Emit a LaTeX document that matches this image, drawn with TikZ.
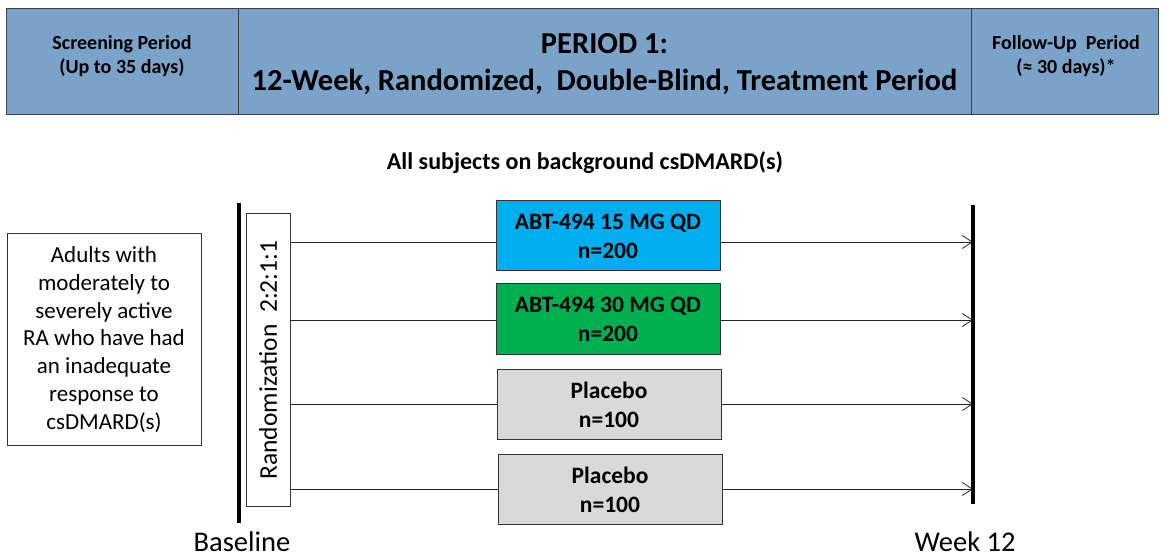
\documentclass[tikz,border=0pt]{standalone}
\usepackage{fontspec}
\setmainfont{Carlito}
\usetikzlibrary{arrows.meta,backgrounds}
\definecolor{hdr}{RGB}{123,162,200}
\definecolor{armblue}{RGB}{0,174,239}
\definecolor{armgreen}{RGB}{0,176,80}
\definecolor{armgray}{RGB}{217,217,217}
\begin{document}
\begin{tikzpicture}[x=1pt,y=-1pt,
  hcell/.style={draw=black!75, fill=hdr, line width=0.8pt, minimum height=106pt, inner sep=0pt},
  htext/.style={align=center, inner sep=0pt, font=\fontsize{20}{24}\selectfont\bfseries},
  armbox/.style={draw=black!80, line width=1pt, minimum width=224pt, minimum height=70pt, inner sep=0pt, align=center, font=\fontsize{23.5}{29}\selectfont\bfseries},
  timeline/.style={line width=4pt, black},
  flow/.style={black!85, line width=0.8pt, -{Straight Barb[length=10pt,width=13pt,line width=0.8pt]}},
  bigtext/.style={inner sep=0pt, anchor=base, font=\fontsize{28.5}{32}\selectfont}
]
\useasboundingbox (0,0) rectangle (1163,556);
% header
\node[hcell, minimum width=232pt] (scr) at (122,61) {};
\node[hcell, minimum width=733pt] (per) at (604.5,61) {};
\node[hcell, minimum width=187pt] (fol) at (1064.5,61) {};
\node[htext] (scrT) at (122,56) {Screening Period\\(Up to 35 days)};
\node[htext, font=\fontsize{30.5}{37}\selectfont\bfseries] (perT) at (604.5,64) {PERIOD 1:\\12-Week, Randomized,\ \ Double-Blind, Treatment Period};
\node[htext] (folT) at (1066,56) {Follow-Up\ \ Period\\(≈ 30 days)*};
% subtitle
\node[inner sep=0pt, font=\fontsize{24}{28}\selectfont\bfseries] (bg) at (585,163) {All subjects on background csDMARD(s)};
% population box
\node[draw=black!80, line width=1pt, minimum width=194pt, minimum height=211pt, inner sep=0pt, align=center, font=\fontsize{23}{27.8}\selectfont] (pop) at (104,339.5)
 {Adults with\\moderately to\\severely active\\RA who have had\\an inadequate\\response to\\csDMARD(s)};
% timelines
\coordinate (b0) at (239,203);
\coordinate (b1) at (239,523);
\coordinate (w0) at (973,205);
\coordinate (w1) at (973,504);
\draw[timeline] (b0) -- (b1);
\draw[timeline] (w0) -- (w1);
% randomization
\node[draw=black!80, line width=1pt, fill=white, rotate=90, minimum width=292pt, minimum height=44pt, inner sep=0pt, font=\fontsize{25.5}{28}\selectfont] (rand) at (268,360) {Randomization\ \ 2:2:1:1};
% arms
\node[armbox, fill=armblue] (a1) at (608,236) {ABT-494 15 MG QD\\n=200};
\node[armbox, fill=armgreen] (a2) at (608,319) {ABT-494 30 MG QD\\n=200};
\node[armbox, fill=armgray] (a3) at (609,404.5) {Placebo\\n=100};
\node[armbox, fill=armgray] (a4) at (610,489.5) {Placebo\\n=100};
% arrows
\begin{scope}[on background layer]
\draw[flow] (rand.south |- 0,242) -- (w0 |- 0,242);
\draw[flow] (rand.south |- 0,320) -- (w0 |- 0,320);
\draw[flow] (rand.south |- 0,404) -- (w0 |- 0,404);
\draw[flow] (rand.south |- 0,489) -- (w0 |- 0,489);
\end{scope}
% labels
\node[bigtext] (bl) at (242,551) {Baseline};
\node[bigtext] (wk) at (965,551) {Week 12};
\end{tikzpicture}
\end{document}
